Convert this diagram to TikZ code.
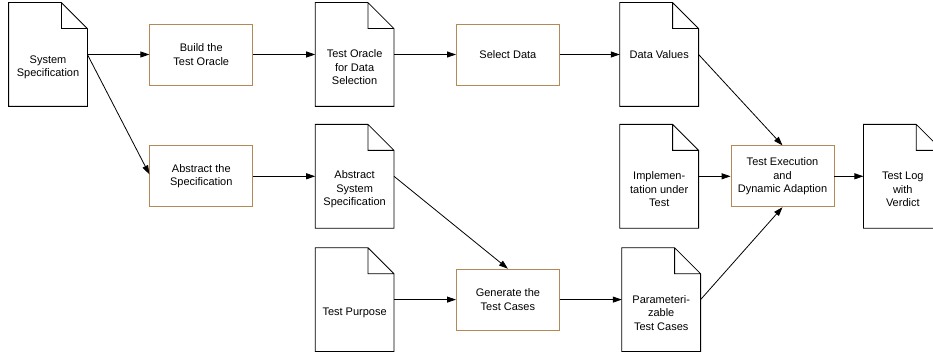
\documentclass[tikz,border=0pt]{standalone}
\usepackage{fontspec}
\setmainfont{Liberation Sans}
\usetikzlibrary{positioning}
\usetikzlibrary{arrows.meta}
\definecolor{boxbrown}{RGB}{178,138,88}

\begin{document}
\begin{tikzpicture}[x=1pt, y=1pt, node distance=62pt, line width=0.8pt,
    >={Triangle[length=9pt,width=6pt]},
    doc/.style = {minimum width=78pt, minimum height=103pt, inner sep=0pt},
    doctext/.style = {align=center, yshift=-13pt, font=\fontsize{11}{13.5}\selectfont},
    proc/.style = {draw=boxbrown, minimum width=103pt, minimum height=61pt, align=center,
                   font=\fontsize{11}{13.5}\selectfont}]
            \useasboundingbox (0,0) rectangle (933,-355);
            % Nodes
            \node[doc, label={[doctext]center:{System\\Specification}}] (sys) at (48,-54.5) {};
            \node[proc] (build) [right=of sys] {Build the\\Test Oracle};
            \node[doc, label={[doctext]center:{Test Oracle\\for Data\\Selection}}] (oracle) [right=of build] {};
            \node[proc] (select) [right=of oracle] {Select Data};
            \node[doc, label={[doctext, yshift=13pt]center:{Data Values}}] (data) [right=60pt of select] {};
            \node[proc] (abs) [below=60pt of build] {Abstract the\\Specification};
            \node[doc, label={[doctext]center:{Abstract\\System\\Specification}}] (absdoc) [right=of abs] {};
            \node[doc, label={[doctext]center:{Implemen-\\tation under\\Test}}] (impl) [below=18pt of data] {};
            \node[proc] (exec) [right=32pt of impl] {Test Execution\\and\\Dynamic Adaption};
            \node[doc, label={[doctext]center:{Test Log\\with\\Verdict}}] (log) [right=29pt of exec] {};
            \node[doc, label={[doctext]center:{Test Purpose}}] (purpose) [below=19.5pt of absdoc] {};
            \node[proc] (gen) [right=of purpose] {Generate the\\Test Cases};
            \node[doc, label={[doctext]center:{Parameteri-\\zable\\Test Cases}}] (param) [right=of gen] {};
            % Document outlines
            \foreach \d in {sys,oracle,data,absdoc,impl,log,purpose,param}
                \draw (\d.north west) -- ([xshift=-26pt]\d.north east) -- ([yshift=-26pt]\d.north east)
                      -- (\d.south east) -- (\d.south west) -- cycle
                      ([xshift=-26pt]\d.north east) |- ([yshift=-26pt]\d.north east);
            % Edges
            \draw[->] (sys) -- (build);
            \draw[->] (build) -- (oracle);
            \draw[->] (oracle) -- (select);
            \draw[->] (select) -- (data);
            \draw[->] (sys.east) -- ([yshift=2pt]abs.west);
            \draw[->] (abs) -- (absdoc);
            \draw[->] (absdoc.east) -- (gen.north);
            \draw[->] (purpose) -- (gen);
            \draw[->] (gen) -- (param);
            \draw[->] (data.east) -- (exec.north);
            \draw[->] (impl) -- (exec);
            \draw[->] (param.east) -- (exec.south);
            \draw[->] (exec) -- (log);
            \end{tikzpicture}
\end{document}
